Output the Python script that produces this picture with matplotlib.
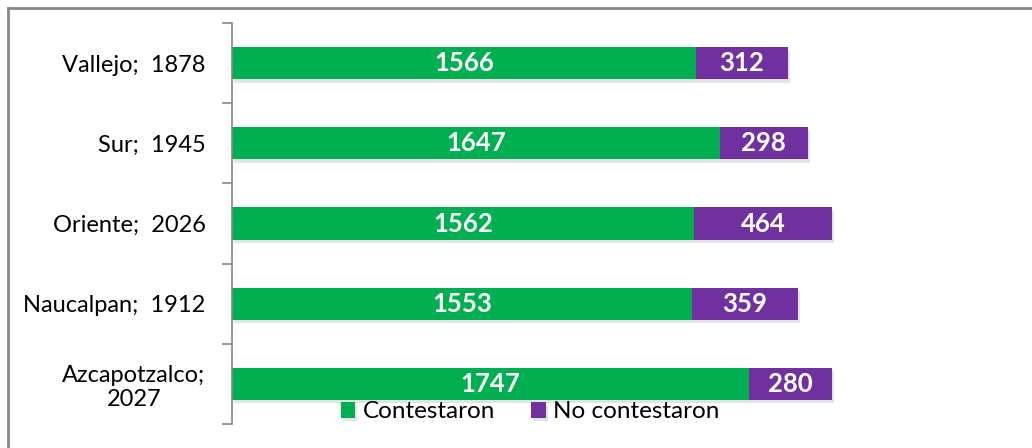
import numpy as np
import matplotlib.pyplot as plt
import matplotlib.patheffects as pe
from matplotlib.lines import Line2D

categorias = ["Azcapotzalco;\n2027", "Naucalpan;  1912", "Oriente;  2026", "Sur;  1945", "Vallejo;  1878"]
contestaron = [1747, 1553, 1562, 1647, 1566]
no_contestaron = [280, 359, 464, 298, 312]

verde = "#00B050"
morado = "#7030A0"
gris = "#868686"

plt.rcParams['font.family'] = ['Lato', 'DejaVu Sans']

fig = plt.figure(figsize=(10.32, 4.48), dpi=100)
ax = fig.add_axes([232 / 1032, 1 - 424 / 448, 778 / 1032, 401 / 448])

y = np.arange(len(categorias))
sombra = [pe.SimplePatchShadow(offset=(1.5, -2.5), alpha=0.22, shadow_rgbFace="#808080"), pe.Normal()]

b1 = ax.barh(y, contestaron, height=0.4, color=verde, label="Contestaron")
b2 = ax.barh(y, no_contestaron, left=contestaron, height=0.4, color=morado, label="No contestaron")
for b in list(b1) + list(b2):
    b.set_path_effects(sombra)

for i in range(len(y)):
    ax.text(contestaron[i] / 2, y[i], str(contestaron[i]), ha="center", va="center",
            color="white", fontsize=18.5, fontweight="bold")
    ax.text(contestaron[i] + no_contestaron[i] / 2, y[i], str(no_contestaron[i]), ha="center",
            va="center", color="white", fontsize=18.5, fontweight="bold")

ax.set_xlim(0, 2628)
ax.set_ylim(-0.5, 4.5)
ax.set_yticks(y)
ax.set_yticklabels(categorias, fontsize=17, multialignment="center")
ax.set_yticks(np.arange(-0.5, 5, 1), minor=True)
ax.tick_params(axis="y", which="major", length=0, pad=19)
ax.tick_params(axis="y", which="minor", length=7, color=gris, width=1.2)
ax.set_xticks([])
for s in ["top", "right", "bottom"]:
    ax.spines[s].set_visible(False)
ax.spines["left"].set_color(gris)
ax.spines["left"].set_linewidth(1.2)

fig.legend(handles=[b1, b2], loc="center", bbox_to_anchor=(530 / 1032, 1 - 412 / 448),
           ncol=2, frameon=False, fontsize=17.5, handlelength=0.6, handleheight=0.6,
           handletextpad=0.3, columnspacing=1.5)

# marco del grafico
fig.add_artist(Line2D([8 / 1032, 8 / 1032], [0, 1 - 8 / 448], color=gris, lw=2, transform=fig.transFigure))
fig.add_artist(Line2D([8 / 1032, 1], [1 - 8 / 448, 1 - 8 / 448], color=gris, lw=2, transform=fig.transFigure))

fig.savefig("out.png", dpi=100)
